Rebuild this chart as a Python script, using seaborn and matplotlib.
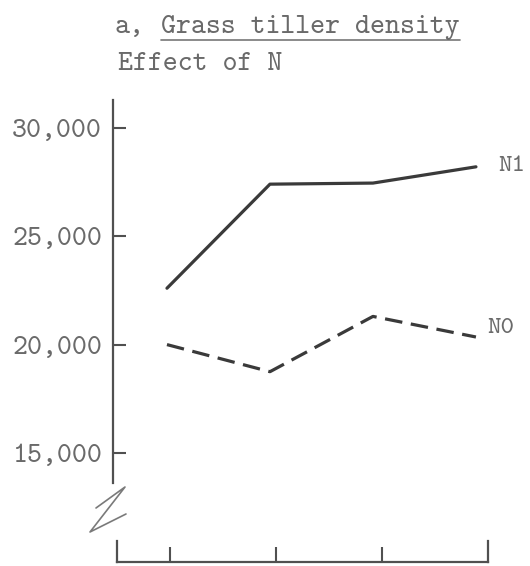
import matplotlib
matplotlib.use("Agg")
import matplotlib.pyplot as plt
from matplotlib.lines import Line2D
import seaborn as sns
import pandas as pd

# ---- data ----
periods = [1, 2, 3, 4]
n1_values = [22600, 27400, 27450, 28200]
n0_values = [20000, 18750, 21300, 20350]
series_names = ["N1", "N0"]
ytick_values = [15000, 20000, 25000, 30000]
ytick_labels = ["15,000", "20,000", "25,000", "30,000"]
title_prefix = "a,"
title_main = "Grass tiller density"
subtitle = "Effect of N"

df = pd.DataFrame({
    "period": periods * 2,
    "tillers": n1_values + n0_values,
    "series": ["N1"] * len(periods) + ["N0"] * len(periods),
})

sns.set_style("white")
plt.rcParams["font.family"] = ["cmtt10", "Liberation Mono", "DejaVu Sans Mono"]
plt.rcParams["axes.unicode_minus"] = False

W, H = 530, 566
fig = plt.figure(figsize=(W / 100, H / 100), dpi=100)

TEXT = "#6a6a6a"
LINE = "#3a3a3a"
AXC = "#505050"

def fx(px):
    return px / W

def fy(py):
    return (H - py) / H

# main axes (y spine from y=100 to 483 px, x from 113 to 488 px)
ax = fig.add_axes([fx(113), fy(483), fx(488) - fx(113), fy(100) - fy(483)])
ax.set_facecolor("none")
sns.lineplot(data=df, x="period", y="tillers", style="series",
             dashes={"N1": "", "N0": (5.5, 2.7)}, color=LINE, linewidth=2.3,
             legend=False, ax=ax)
ax.set_xlim(0.476, 4.117)
ax.set_ylim(13616, 31282)
for s in ["top", "right", "bottom"]:
    ax.spines[s].set_visible(False)
ax.spines["left"].set_color(AXC)
ax.spines["left"].set_linewidth(1.6)
ax.set_xticks([])
ax.set_yticks(ytick_values)
ax.set_yticklabels(ytick_labels)
ax.tick_params(axis="y", left=True, direction="in", length=9.4, width=1.5, color=AXC,
               pad=8, labelsize=20.5, labelcolor=TEXT)
ax.set_xlabel("")
ax.set_ylabel("")

# series end labels
last = len(periods) - 1
ax.annotate(series_names[0], (periods[last], n1_values[last]), xytext=(16, 0),
            textcoords="offset points", va="center", ha="left",
            fontsize=18.5, color=TEXT)
ax.annotate(series_names[1], (periods[last], n0_values[last]), xytext=(8, 6),
            textcoords="offset points", va="center", ha="left",
            fontsize=18.5, color=TEXT)

# bottom bracket axis
bx = fig.add_axes([fx(117), fy(562), fx(488) - fx(117), fy(541) - fy(562)])
bx.set_facecolor("none")
bx.set_xlim(0.5, 4.0)
bx.set_ylim(0, 1)
bx.spines["top"].set_visible(False)
for s in ["left", "right", "bottom"]:
    bx.spines[s].set_color(AXC)
    bx.spines[s].set_linewidth(1.6)
bx.set_xticks(periods[:-1])
bx.set_xticklabels([])
bx.set_yticks([])
bx.tick_params(axis="x", bottom=True, direction="in", length=11, width=1.5, color=AXC)

# axis break symbol
zx = [96, 125, 90, 126]
zy = [508, 487, 532, 514]
fig.add_artist(Line2D([fx(v) for v in zx], [fy(v) for v in zy],
                      transform=fig.transFigure, color="#7a7a7a", lw=1.2))

# titles
fig.text(fx(115), fy(33), title_prefix, fontsize=20.5, color=TEXT, va="baseline", ha="left")
t = fig.text(fx(161), fy(33), title_main, fontsize=20.5, color=TEXT, va="baseline", ha="left")
fig.text(fx(118), fy(70), subtitle, fontsize=20.5, color=TEXT, va="baseline", ha="left")
fig.canvas.draw()
bb = t.get_window_extent(fig.canvas.get_renderer())
fig.add_artist(Line2D([bb.x0 / W, bb.x1 / W], [fy(40), fy(40)],
                      transform=fig.transFigure, color="#777777", lw=1.2))

fig.savefig("out.png", dpi=100)
